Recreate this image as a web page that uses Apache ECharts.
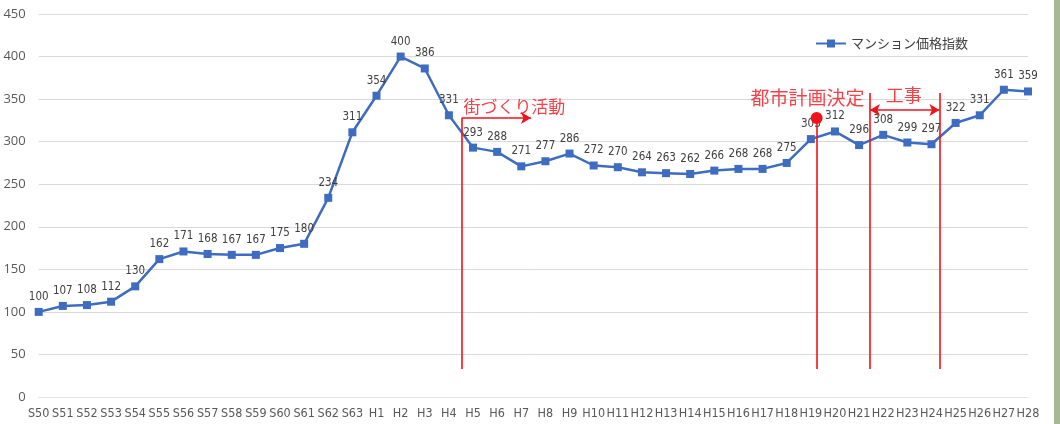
<!DOCTYPE html>
<html><head><meta charset="utf-8">
<script src="https://cdn.jsdelivr.net/npm/echarts@6/dist/echarts.min.js"></script>
<style>html,body{margin:0;padding:0;background:#fff}#c{width:1060px;height:424px}</style>
</head><body><div id="c"></div>
<script>
const categories = ['S50','S51','S52','S53','S54','S55','S56','S57','S58','S59','S60','S61','S62','S63',
  'H1','H2','H3','H4','H5','H6','H7','H8','H9','H10','H11','H12','H13','H14','H15','H16','H17','H18','H19','H20',
  'H21','H22','H23','H24','H25','H26','H27','H28'];
const priceIndex = [100,107,108,112,130,162,171,168,167,167,175,180,234,311,
  354,400,386,331,293,288,271,277,286,272,270,264,263,262,266,268,268,275,303,312,
  296,308,299,297,322,331,361,359];
const seriesName = 'マンション価格指数';
const yTicks = {min: 0, max: 450, interval: 50};
// annotations in data units (category index, index value)
const annoSegments = [
  {from: [17.53, 32.9], to: [17.53, 327.8], arrow: 'none'},
  {from: [17.53, 327.8], to: [20.4, 327.8], arrow: 'end'},
  {from: [32.24, 32.9], to: [32.24, 327.8], arrow: 'none'},
  {from: [34.45, 32.9], to: [34.45, 357.2], arrow: 'none'},
  {from: [37.33, 32.9], to: [37.33, 357.2], arrow: 'none'},
  {from: [34.45, 337.2], to: [37.33, 337.2], arrow: 'both'}
];
const annoDot = [[32.24, 327.8]];
const annoTexts = [
  {text: '街づくり活動', pos: [17.6, 340.7], align: 'left', size: 17},
  {text: '都市計画決定', pos: [34.22, 351], align: 'right', size: 19},
  {text: '工事', pos: [35.85, 354.8], align: 'center', size: 18}
];
const RED = '#f2121a';
const NARROW = '"DejaVu Sans Condensed", sans-serif';
const chart = echarts.init(document.getElementById('c'), null, {renderer: 'canvas'});
const symFor = a => a === 'end' ? ['none','arrow'] : a === 'both' ? ['arrow','arrow'] : ['none','none'];
const option = {
  backgroundColor: '#ffffff',
  animation: false,
  grid: {left: 38.7, right: 32, top: 14, bottom: 27, containLabel: false},
  legend: {
    data: [seriesName], right: 87, top: 32, itemWidth: 30, itemHeight: 10,
    textStyle: {color: '#404040', fontSize: 13, fontFamily: '"Noto Sans CJK JP"'}
  },
  xAxis: [{
    type: 'category', data: categories, boundaryGap: false,
    axisLine: {show: true, lineStyle: {color: '#e3e3e3'}}, axisTick: {show: false},
    axisLabel: {color: '#595959', fontSize: 12.5, margin: 10, interval: 0, fontFamily: NARROW}
  }, {
    type: 'value', min: 0, max: categories.length - 1, show: false
  }],
  yAxis: {
    type: 'value', min: yTicks.min, max: yTicks.max, interval: yTicks.interval,
    axisLine: {show: false}, axisTick: {show: false},
    splitLine: {lineStyle: {color: '#d9d9d9', width: 1}},
    axisLabel: {color: '#595959', fontSize: 13, margin: 13, fontFamily: '"Open Sans", sans-serif'}
  },
  series: [{
    name: seriesName, type: 'line', data: priceIndex,
    symbol: 'rect', symbolSize: 8,
    lineStyle: {color: '#3d6cc0', width: 2.5},
    itemStyle: {color: '#3d6cc0'},
    label: {show: true, position: 'top', distance: 5, color: '#404040', fontSize: 11.5, fontFamily: NARROW},
    z: 3
  }, {
    type: 'scatter', xAxisIndex: 1, data: annoDot, symbol: 'circle', symbolSize: 12,
    itemStyle: {color: RED, opacity: 1}, silent: true, z: 6,
    markLine: {
      silent: true, symbolSize: [9, 10], animation: false,
      label: {show: false},
      lineStyle: {color: RED, width: 1.6, type: 'solid'},
      data: annoSegments.map(s => [
        {coord: s.from, symbol: symFor(s.arrow)[0]},
        {coord: s.to, symbol: symFor(s.arrow)[1]}
      ])
    }
  }, {
    type: 'scatter', xAxisIndex: 1, symbolSize: 0, silent: true, z: 7,
    data: annoTexts.map(t => ({
      value: t.pos,
      label: {show: true, position: 'inside', formatter: t.text, color: RED, fontSize: t.size,
        align: t.align, verticalAlign: 'middle', fontFamily: '"Noto Sans CJK JP"'}
    }))
  }],
  graphic: [{type: 'rect', right: 0, top: 0, shape: {width: 6, height: 424}, style: {fill: '#a6b896'}}]
};
chart.setOption(option);
</script></body></html>
